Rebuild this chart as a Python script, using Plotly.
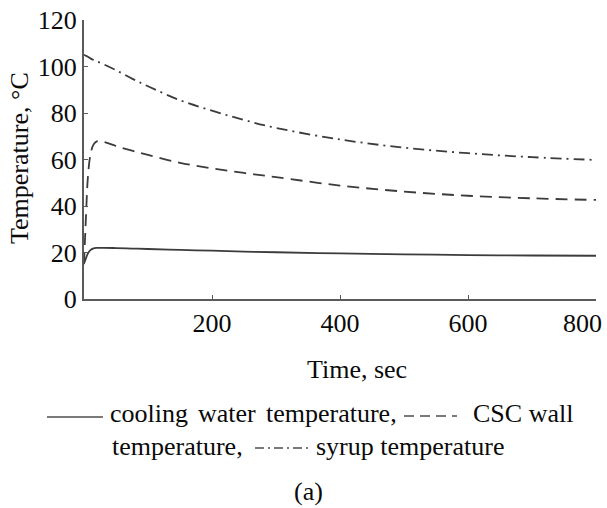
import plotly.graph_objects as go

# ---- data ----
time_s = [0, 3, 6, 10, 15, 20, 30, 50, 75, 100, 150, 200, 250, 300, 400, 500, 600, 700, 800]
cooling_water = [15.3, 17.5, 19.5, 21.0, 21.8, 22.0, 22.0, 21.9, 21.7, 21.5, 21.1, 20.8, 20.4, 20.1, 19.6, 19.2, 18.9, 18.7, 18.6]
csc_wall = [15.0, 35.0, 52.0, 62.0, 66.5, 67.8, 67.6, 65.8, 63.8, 62.0, 58.6, 56.2, 54.2, 52.4, 48.8, 46.2, 44.4, 43.3, 42.6]
syrup = [105.0, 104.6, 104.2, 103.5, 102.8, 102.2, 101.0, 98.4, 94.8, 91.5, 85.5, 81.0, 77.0, 73.6, 68.6, 65.1, 62.7, 61.0, 59.8]

x_ticks = [200, 400, 600, 800]
x_tick_labels = ["200", "400", "600", ""]   # last label is drawn right-aligned to stay inside the page
last_x_label = "800"
y_ticks = [0, 20, 40, 60, 80, 100, 120]

FONT = "Liberation Serif, Times New Roman, serif"
FS = 26
TXT_C = "#0a0a0a"
LINE_C = "#3c3c3c"
AXIS_C = "#5a5a5a"
SAMPLE_C = "#7a7a7a"

W, H = 607, 508
L, R, T, B = 84, 11, 20, 209
PW, PH = W - L - R, H - T - B


def px(x):
    return (x - L) / PW


def py(y):
    return (H - B - y) / PH


fig = go.Figure()
fig.add_trace(go.Scatter(x=time_s, y=cooling_water, mode="lines", line_shape="spline",
                         line=dict(color=LINE_C, width=1.8), name="cooling water temperature"))
fig.add_trace(go.Scatter(x=time_s, y=csc_wall, mode="lines", line_shape="spline",
                         line=dict(color=LINE_C, width=1.8, dash="12px,7px"), name="CSC wall temperature"))
fig.add_trace(go.Scatter(x=time_s, y=syrup, mode="lines", line_shape="spline",
                         line=dict(color=LINE_C, width=1.8, dash="11px,5px,2px,5px"), name="syrup temperature"))

fig.update_layout(
    width=W, height=H,
    margin=dict(l=L, r=R, t=T, b=B, autoexpand=False),
    paper_bgcolor="white", plot_bgcolor="white",
    showlegend=False,
    font=dict(family=FONT, size=FS, color=TXT_C),
)
fig.update_xaxes(range=[0, 800], tickvals=x_ticks, ticktext=x_tick_labels, ticks="inside", ticklen=4,
                 tickcolor=AXIS_C, automargin=False,
                 showline=True, linecolor=AXIS_C, linewidth=2, showgrid=False, zeroline=False,
                 tickfont=dict(family=FONT, size=FS, color=TXT_C))
fig.update_yaxes(range=[0, 120], tickvals=y_ticks, ticks="inside", ticklen=4, tickcolor=AXIS_C,
                 ticklabeloverflow="allow", automargin=False,
                 showline=True, linecolor=AXIS_C, linewidth=2, showgrid=False, zeroline=False,
                 tickfont=dict(family=FONT, size=FS, color=TXT_C))

ann = []


def text(s, x, y, xanchor="left", angle=0):
    ann.append(dict(text=s, x=px(x), y=py(y), xref="paper", yref="paper", showarrow=False,
                    xanchor=xanchor, yanchor="middle", textangle=angle,
                    font=dict(family=FONT, size=FS, color=TXT_C)))


# right-aligned label for the last x tick (as in the reference)
ann.append(dict(text=last_x_label, x=x_ticks[-1], xref="x", xanchor="right", xshift=8,
                y=0, yref="paper", yanchor="middle", yshift=-24, showarrow=False,
                font=dict(family=FONT, size=FS, color=TXT_C)))

text("Temperature, °C", 19, 158, xanchor="center", angle=-90)
text("Time, sec", 357, 369, xanchor="center")
# justified first legend line: words placed individually
text("cooling", 108, 413)
text("water", 196, 413)
text("temperature,", 264, 413)
text("CSC wall", 471, 413)
text("temperature,", 110, 446)
text("syrup temperature", 314, 446)
text("(a)", 308, 491, xanchor="center")
fig.update_layout(annotations=ann)

shapes = [
    dict(x0=47, x1=103, y0=417, y1=417, dash="solid"),
    dict(x0=404, x1=457, y0=416, y1=416, dash="10px,6px"),
    dict(x0=255, x1=312, y0=448, y1=448, dash="9px,4px,2px,4px"),
]
fig.update_layout(shapes=[
    dict(type="line", xref="paper", yref="paper", x0=px(s["x0"]), x1=px(s["x1"]),
         y0=py(s["y0"]), y1=py(s["y1"]), line=dict(color=SAMPLE_C, width=2, dash=s["dash"]))
    for s in shapes
])

fig.write_html("out.html", config={"displayModeBar": False},
               post_script="document.body.style.margin='0';document.body.style.overflow='hidden';")
